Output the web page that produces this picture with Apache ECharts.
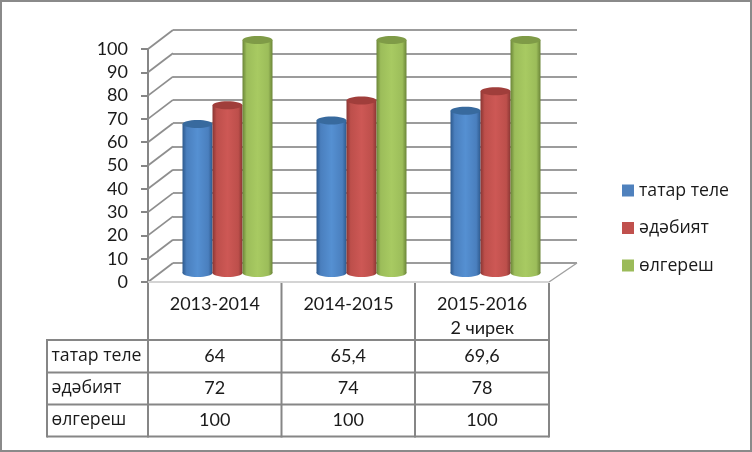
<!DOCTYPE html>
<html><head><meta charset="utf-8">
<style>html,body{margin:0;padding:0;background:#fff}#c{width:752px;height:452px}</style>
<script src="https://cdn.jsdelivr.net/npm/echarts@6/dist/echarts.min.js"></script></head>
<body><div id="c"></div>
<script>
const categories = ['2013-2014', '2014-2015', '2015-2016\n2 чирек'];
const seriesNames = ['татар теле', 'әдәбият', 'өлгереш'];
const tatarTele = [64, 65.4, 69.6];
const adabiyat = [72, 74, 78];
const olgeresh = [100, 100, 100];
const valueTicks = [0, 10, 20, 30, 40, 50, 60, 70, 80, 90, 100];
const allValues = [tatarTele, adabiyat, olgeresh];
const baseColors = ['#4F81BD', '#C0504D', '#9BBB59'];
const shades = [
  { edge: '#2e5a8e', side: '#4a7fbe', mid: '#5590d2', top: '#386a9e' },
  { edge: '#8a3633', side: '#bd4f4b', mid: '#cd5855', top: '#a03e3b' },
  { edge: '#6b8538', side: '#9cbd5a', mid: '#a8ca62', top: '#7f9b47' }
];
const LINE = '#868686', TXT = '#1a1a1a';
const FONT = 'Lato, "Open Sans", sans-serif';
const CYR = '"Open Sans", "Noto Sans", sans-serif';

const chart = echarts.init(document.getElementById('c'), null, { renderer: 'canvas' });

function barSeries(idx) {
  return {
    type: 'custom', name: seriesNames[idx], xAxisIndex: 2, yAxisIndex: 2,
    itemStyle: { color: baseColors[idx] }, z: 5 + idx,
    data: allValues[idx].map((v, i) => [i, v]),
    renderItem(params, api) {
      const top = api.coord([api.value(0), api.value(1)]);
      const base = api.coord([api.value(0), 0]);
      const w = 30, ry = 4, x = top[0] + (idx - 1) * w - w / 2;
      const s = shades[idx];
      const grad = new echarts.graphic.LinearGradient(0, 0, 1, 0, [
        { offset: 0, color: s.edge }, { offset: 0.14, color: s.side },
        { offset: 0.5, color: s.mid }, { offset: 0.86, color: s.side },
        { offset: 1, color: s.edge }]);
      return { type: 'group', children: [
        { type: 'ellipse', shape: { cx: x + w / 2, cy: base[1], rx: w / 2, ry }, style: { fill: grad } },
        { type: 'rect', shape: { x, y: top[1], width: w, height: base[1] - top[1] }, style: { fill: grad } },
        { type: 'ellipse', shape: { cx: x + w / 2, cy: top[1], rx: w / 2, ry }, style: { fill: s.top } }
      ] };
    }
  };
}

const sideWall = {
  type: 'custom', xAxisIndex: 0, yAxisIndex: 0, z: 2, silent: true,
  data: valueTicks.map(v => [0, v]),
  renderItem(params, api) {
    const y = api.coord([0, api.value(1)])[1];
    const x0 = params.coordSys.x;
    return { type: 'line', shape: { x1: x0, y1: y, x2: x0 + 25, y2: y - 19 },
      style: { stroke: '#8e8e8e', lineWidth: 1.8 } };
  }
};
const floorEdge = {
  type: 'custom', xAxisIndex: 0, yAxisIndex: 0, z: 2, silent: true,
  data: [[0, 0]],
  renderItem(params, api) {
    const y = api.coord([0, 0])[1];
    const c = params.coordSys;
    return { type: 'group', children: [
      { type: 'line', shape: { x1: c.x + c.width, y1: y, x2: c.x + c.width + 28, y2: y - 19 },
        style: { stroke: '#a0a0a0', lineWidth: 1.4 } },
      { type: 'line', shape: { x1: c.x, y1: y, x2: c.x + c.width, y2: y },
        style: { stroke: '#d4d4d4', lineWidth: 2 } }
    ] };
  }
};

const tLeft = 47, tCol = [148, 281.5, 415, 549], tRow = [340, 372.5, 404.5, 436.5];
const ln = (x1, y1, x2, y2) => ({ type: 'line', z: 3, shape: { x1, y1, x2, y2 }, style: { stroke: LINE, lineWidth: 2 } });
const gfx = [
  { type: 'rect', z: 1, shape: { x: 1, y: 1, width: 750, height: 450 }, style: { fill: 'none', stroke: '#8a8a8a', lineWidth: 2 } }
];
tCol.forEach(x => gfx.push(ln(x, 283, x, tRow[3] + 1)));
tRow.forEach(y => gfx.push(ln(tLeft, y, tCol[3], y)));
gfx.push(ln(tLeft, tRow[0] - 1, tLeft, tRow[3] + 1));
seriesNames.forEach((n, r) => {
  const cy = (tRow[r] + tRow[r + 1]) / 2 - 0.5;
  gfx.push({ type: 'text', z: 4, style: { text: n, x: tLeft + 4.5, y: cy, font: '17.7px ' + CYR, fill: TXT, textVerticalAlign: 'middle' } });
  allValues[r].forEach((v, c) => {
    gfx.push({ type: 'text', z: 4, style: { text: String(v).replace('.', ','), x: (tCol[c] + tCol[c + 1]) / 2, y: cy,
      font: '18px ' + FONT, fill: TXT, textAlign: 'center', textVerticalAlign: 'middle' } });
  });
});

chart.setOption({
  animation: false,
  backgroundColor: '#ffffff',
  grid: [
    { left: 148, width: 401, top: 49, height: 233 },
    { left: 173, width: 404, top: 30, height: 233 },
    { left: 160.5, width: 402, top: 40, height: 233 }
  ],
  xAxis: [
    { gridIndex: 0, type: 'category', data: categories, boundaryGap: true,
      axisLine: { show: false }, axisTick: { show: false },
      axisLabel: { margin: 8, fontFamily: FONT, fontSize: 18, color: TXT, lineHeight: 24, verticalAlign: 'top', interval: 0, padding: [2, 0, 0, 0] } },
    { gridIndex: 1, type: 'category', data: categories, show: false },
    { gridIndex: 2, type: 'category', data: categories, show: false }
  ],
  yAxis: [
    { gridIndex: 0, type: 'value', min: 0, max: 100, interval: 10,
      axisLine: { show: true, lineStyle: { color: LINE, width: 2 } },
      axisTick: { show: true, length: 7, lineStyle: { color: LINE, width: 2 } },
      axisLabel: { margin: 20, fontFamily: FONT, fontSize: 18, color: TXT, padding: [5, 0, 0, 0] },
      splitLine: { show: false } },
    { gridIndex: 1, type: 'value', min: 0, max: 100, interval: 10,
      axisLine: { show: false }, axisTick: { show: false }, axisLabel: { show: false },
      splitLine: { show: true, lineStyle: { color: '#9c9c9c', width: 2 } } },
    { gridIndex: 2, type: 'value', min: 0, max: 100, interval: 10, show: false, splitLine: { show: false } }
  ],
  legend: {
    orient: 'vertical', left: 622, top: 178, padding: 0, itemWidth: 12, itemHeight: 12, itemGap: 12.5,
    icon: 'rect', data: seriesNames,
    textStyle: { fontFamily: CYR, fontSize: 17.7, color: TXT, lineHeight: 25 }
  },
  graphic: gfx,
  series: [sideWall, floorEdge, barSeries(0), barSeries(1), barSeries(2)]
});
</script></body></html>
